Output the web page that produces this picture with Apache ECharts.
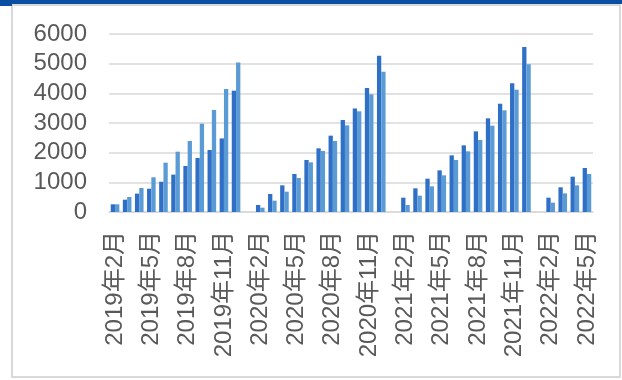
<!DOCTYPE html>
<html>
<head>
<meta charset="utf-8">
<script src="https://cdn.jsdelivr.net/npm/echarts@6/dist/echarts.min.js"></script>
<style>
  html, body { margin: 0; padding: 0; background: #fff; }
  #chart { width: 622px; height: 380px; }
</style>
</head>
<body>
<div id="chart"></div>
<script>
// Monthly categories; January has no data (Jan–Feb reported together)
const months = [
  '2019年2月','2019年3月','2019年4月','2019年5月','2019年6月','2019年7月','2019年8月','2019年9月','2019年10月','2019年11月','2019年12月',
  '2020年1月','2020年2月','2020年3月','2020年4月','2020年5月','2020年6月','2020年7月','2020年8月','2020年9月','2020年10月','2020年11月','2020年12月',
  '2021年1月','2021年2月','2021年3月','2021年4月','2021年5月','2021年6月','2021年7月','2021年8月','2021年9月','2021年10月','2021年11月','2021年12月',
  '2022年1月','2022年2月','2022年3月','2022年4月','2022年5月'
];

const seriesA = [
  260, 415, 620, 785, 1020, 1260, 1550, 1820, 2090, 2480, 4090,
  null, 236, 607, 899, 1281, 1753, 2146, 2573, 3101, 3490, 4179, 5268,
  null, 483, 798, 1123, 1404, 1910, 2247, 2718, 3157, 3650, 4337, 5561,
  null, 483, 832, 1191, 1483
];

const seriesB = [
  260, 505, 810, 1170, 1663, 2033, 2393, 2977, 3438, 4146, 5043,
  null, 146, 382, 685, 1146, 1674, 2056, 2393, 2921, 3394, 3966, 4729,
  null, 236, 551, 865, 1236, 1753, 2045, 2427, 2910, 3427, 4123, 4978,
  null, 315, 629, 899, 1281
];

const yTicks = { min: 0, max: 6000, interval: 1000 };

const chart = echarts.init(document.getElementById('chart'), null, { renderer: 'canvas' });

chart.setOption({
  animation: false,
  backgroundColor: '#ffffff',
  graphic: [
    { type: 'rect', shape: { x: 0, y: 0, width: 622, height: 4 }, style: { fill: '#0b4ea2' }, z: 10 },
    { type: 'rect', shape: { x: 0, y: 0, width: 12, height: 6 }, style: { fill: '#0b4ea2' }, z: 10 },
    { type: 'rect', shape: { x: 12, y: 5, width: 608, height: 372 }, style: { fill: 'none', stroke: '#d9d9d9', lineWidth: 2 }, z: 0 }
  ],
  grid: { left: 109, right: 29, top: 34, bottom: 168, containLabel: false },
  xAxis: {
    type: 'category',
    data: months,
    axisLine: { show: true, lineStyle: { color: '#d9d9d9', width: 1.5 } },
    axisTick: { show: false },
    axisLabel: {
      interval: 2,
      rotate: 90,
      margin: 19,
      color: '#595959',
      fontSize: 24,
      fontFamily: 'Liberation Sans, "Noto Sans CJK SC", sans-serif'
    }
  },
  yAxis: {
    type: 'value',
    min: yTicks.min,
    max: yTicks.max,
    interval: yTicks.interval,
    axisLine: { show: false },
    axisTick: { show: false },
    splitLine: { lineStyle: { color: '#d9d9d9', width: 1.5 } },
    axisLabel: {
      margin: 22,
      color: '#595959',
      fontSize: 24,
      fontFamily: 'Liberation Sans, sans-serif',
      formatter: (v) => String(v)
    }
  },
  series: [
    {
      name: 'A', type: 'bar', data: seriesA,
      barWidth: 4.3, barGap: '0%',
      itemStyle: { color: '#2f6fc6' }
    },
    {
      name: 'B', type: 'bar', data: seriesB,
      barWidth: 4.3, barGap: '0%',
      itemStyle: { color: '#5b9bd5' }
    }
  ]
});
</script>
</body>
</html>
